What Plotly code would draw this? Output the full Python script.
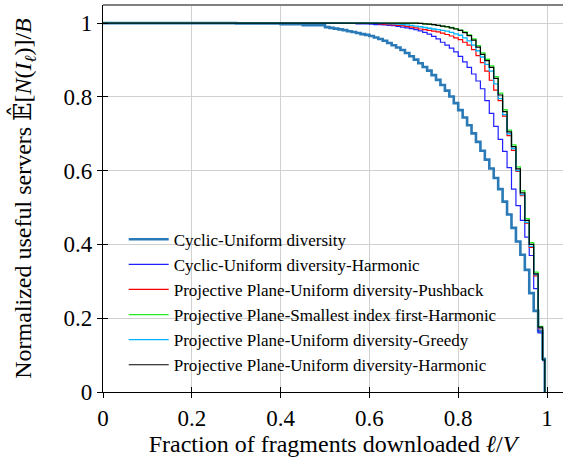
import plotly.graph_objects as go

# fraction of fragments downloaded (x positions where values were read)
frac = [0.0, 0.1, 0.2, 0.3, 0.4, 0.45,
        0.50, 0.51, 0.52, 0.53, 0.54, 0.55, 0.56, 0.57, 0.58, 0.59,
        0.60, 0.61, 0.62, 0.63, 0.64, 0.65, 0.66, 0.67, 0.68, 0.69,
        0.70, 0.71, 0.72, 0.73, 0.74, 0.75, 0.76, 0.77, 0.78, 0.79,
        0.80, 0.81, 0.82, 0.83, 0.84, 0.85, 0.86, 0.87, 0.88, 0.89,
        0.90, 0.91, 0.92, 0.93, 0.94, 0.95, 0.96, 0.97, 0.98, 0.99, 0.995]

cyclic_uniform = [1.0, 1.0, 1.0, 0.999, 0.997, 0.994,
                  0.989, 0.987, 0.985, 0.983, 0.981, 0.978, 0.976, 0.973, 0.970, 0.968,
                  0.965, 0.961, 0.957, 0.952, 0.946, 0.940, 0.934, 0.927, 0.919, 0.910,
                  0.901, 0.891, 0.881, 0.871, 0.859, 0.846, 0.832, 0.817, 0.801, 0.783,
                  0.764, 0.744, 0.723, 0.701, 0.678, 0.654, 0.630, 0.606, 0.580, 0.550,
                  0.516, 0.481, 0.445, 0.408, 0.372, 0.331, 0.268, 0.220, 0.165, 0.090, 0.0]

cyclic_harmonic = [1.0, 1.0, 1.0, 1.0, 1.0, 1.0,
                   1.0, 1.0, 1.0, 0.999, 0.999, 0.999, 0.999, 0.998, 0.998, 0.998,
                   0.997, 0.996, 0.996, 0.995, 0.994, 0.993, 0.991, 0.989, 0.987, 0.985,
                   0.982, 0.979, 0.975, 0.970, 0.964, 0.957, 0.948, 0.940, 0.932, 0.922,
                   0.910, 0.895, 0.880, 0.862, 0.843, 0.822, 0.790, 0.755, 0.720, 0.685,
                   0.652, 0.608, 0.550, 0.505, 0.465, 0.420, 0.370, 0.280, 0.160, 0.088, 0.0]

pp_uniform_pushback = [1.0, 1.0, 1.0, 1.0, 1.0, 1.0,
                       1.0, 1.0, 1.0, 1.0, 1.0, 1.0, 1.0, 1.0, 1.0, 0.999,
                       0.999, 0.999, 0.998, 0.997, 0.996, 0.995, 0.994, 0.993, 0.991, 0.989,
                       0.987, 0.984, 0.982, 0.980, 0.978, 0.976, 0.973, 0.969, 0.965, 0.960,
                       0.955, 0.948, 0.940, 0.928, 0.912, 0.893, 0.870, 0.845, 0.818, 0.790,
                       0.748, 0.695, 0.655, 0.598, 0.532, 0.458, 0.392, 0.315, 0.172, 0.085, 0.0]

pp_smallest_harmonic = [1.0, 1.0, 1.0, 1.0, 1.0, 1.0,
                        1.0, 1.0, 1.0, 1.0, 1.0, 1.0, 1.0, 1.0, 1.0, 1.0,
                        1.0, 1.0, 1.0, 1.0, 1.0, 1.0, 1.0, 1.0, 1.0, 1.0,
                        1.0, 0.999, 0.998, 0.997, 0.996, 0.994, 0.992, 0.990, 0.988, 0.985,
                        0.981, 0.976, 0.968, 0.957, 0.939, 0.919, 0.902, 0.884, 0.855, 0.810,
                        0.765, 0.710, 0.670, 0.610, 0.545, 0.470, 0.405, 0.325, 0.178, 0.088, 0.0]

pp_uniform_greedy = [1.0, 1.0, 1.0, 1.0, 1.0, 1.0,
                     1.0, 1.0, 1.0, 1.0, 1.0, 1.0, 1.0, 1.0, 1.0, 1.0,
                     1.0, 1.0, 0.999, 0.999, 0.998, 0.998, 0.997, 0.996, 0.995, 0.994,
                     0.992, 0.990, 0.988, 0.986, 0.984, 0.982, 0.980, 0.978, 0.975, 0.971,
                     0.967, 0.960, 0.952, 0.940, 0.925, 0.908, 0.888, 0.870, 0.835, 0.795,
                     0.752, 0.700, 0.660, 0.600, 0.535, 0.460, 0.395, 0.318, 0.174, 0.086, 0.0]

pp_uniform_harmonic = [1.0, 1.0, 1.0, 1.0, 1.0, 1.0,
                       1.0, 1.0, 1.0, 1.0, 1.0, 1.0, 1.0, 1.0, 1.0, 1.0,
                       1.0, 1.0, 1.0, 1.0, 1.0, 1.0, 1.0, 1.0, 1.0, 1.0,
                       1.0, 0.999, 0.998, 0.997, 0.996, 0.994, 0.992, 0.990, 0.987, 0.984,
                       0.980, 0.974, 0.966, 0.954, 0.935, 0.915, 0.898, 0.880, 0.850, 0.805,
                       0.760, 0.705, 0.665, 0.605, 0.540, 0.465, 0.400, 0.320, 0.176, 0.087, 0.0]

series_names = ["Cyclic-Uniform diversity",
                "Cyclic-Uniform diversity-Harmonic",
                "Projective Plane-Uniform diversity-Pushback",
                "Projective Plane-Smallest index first-Harmonic",
                "Projective Plane-Uniform diversity-Greedy",
                "Projective Plane-Uniform diversity-Harmonic"]
series_values = [cyclic_uniform, cyclic_harmonic, pp_uniform_pushback,
                 pp_smallest_harmonic, pp_uniform_greedy, pp_uniform_harmonic]
colors = ["#2a7ab8", "#2020ff", "#ff0000", "#22ee22", "#00b4ff", "#000000"]
widths = [2.6, 1.2, 1.2, 1.3, 1.3, 1.2]

tick_vals = [0, 0.2, 0.4, 0.6, 0.8, 1]
tick_text = ["0", "0.2", "0.4", "0.6", "0.8", "1"]

FONT = "Liberation Serif, DejaVu Serif, serif"

fig = go.Figure()
for name, vals, col, w in zip(series_names, series_values, colors, widths):
    fig.add_trace(go.Scatter(x=frac, y=vals, mode="lines", name=name,
                             line=dict(color=col, width=w, shape="hv")))

# empty helper trace so that overlay axes (for crossing ticks) are rendered
fig.add_trace(go.Scatter(x=[], y=[], xaxis="x2", yaxis="y2", showlegend=False,
                         hoverinfo="skip"))

axis_common = dict(showline=True, linecolor="black", linewidth=1.2,
                   ticks="outside", ticklen=5, tickcolor="black", tickwidth=1,
                   showgrid=True, gridcolor="#d0d0d0", gridwidth=1.3,
                   zeroline=False, automargin=False,
                   tickfont=dict(family=FONT, size=23, color="black"),
                   tickvals=tick_vals, ticktext=tick_text)

fig.update_layout(
    width=567, height=464,
    margin=dict(l=103, r=4, t=5, b=72),
    paper_bgcolor="white", plot_bgcolor="white",
    font=dict(family=FONT, color="black"),
    xaxis=dict(range=[0, 1.036], title=dict(
        text="Fraction of fragments downloaded <i>ℓ</i>/<i>V</i>",
        font=dict(family=FONT, size=24), standoff=0), **axis_common),
    yaxis=dict(range=[0, 1.049], title=dict(
        text="Normalized useful servers 𝔼̂[<i>N</i>(<i>I</i><sub><i>ℓ</i></sub>)]/<i>B</i>",
        font=dict(family=FONT, size=24), standoff=25), **axis_common),
    xaxis2=dict(overlaying="x", matches="x", anchor="y", ticks="inside", ticklen=5,
                tickcolor="black", showticklabels=False, showgrid=False,
                showline=False, zeroline=False, tickvals=tick_vals),
    yaxis2=dict(overlaying="y", matches="y", anchor="x", ticks="inside", ticklen=5,
                tickcolor="black", showticklabels=False, showgrid=False,
                showline=False, zeroline=False, tickvals=tick_vals),
    legend=dict(x=0.045, y=0.44, xanchor="left", yanchor="top",
                bgcolor="rgba(0,0,0,0)", borderwidth=0,
                font=dict(family=FONT, size=17, color="black"),
                itemwidth=40),
    showlegend=True,
    shapes=[dict(type="line", xref="paper", yref="paper", x0=0, x1=1, y0=1, y1=1,
                 line=dict(color="#808080", width=2))],
)

fig.write_html("out.html", config={"displayModeBar": False},
               post_script="document.body.style.margin='0';")
